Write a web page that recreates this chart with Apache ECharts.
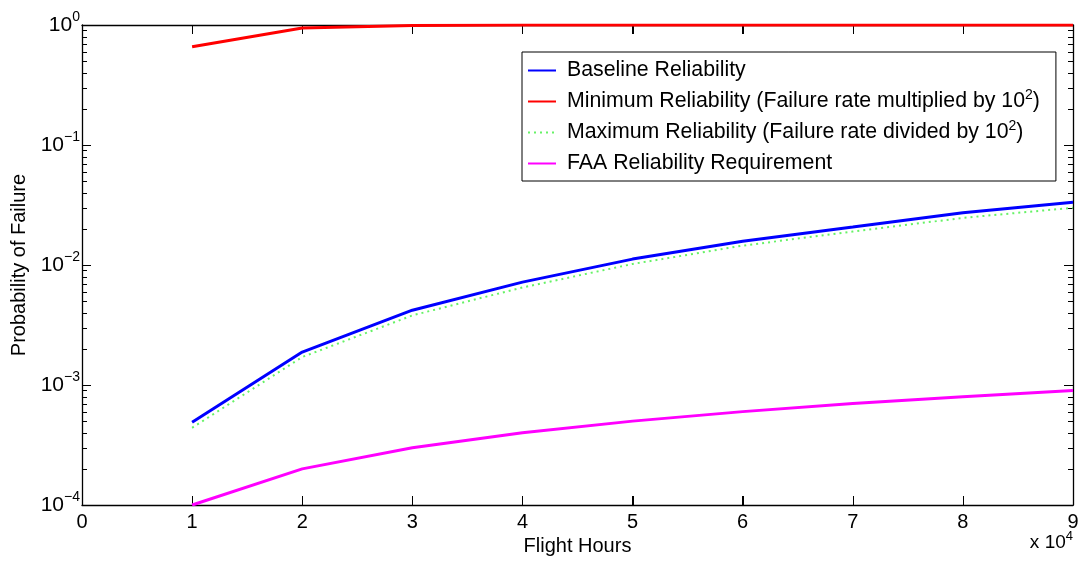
<!DOCTYPE html>
<html>
<head>
<meta charset="utf-8">
<script src="https://cdn.jsdelivr.net/npm/echarts@6/dist/echarts.min.js"></script>
<style>
html,body{margin:0;padding:0;background:#fff;}
#chart{width:1084px;height:562px;}
</style>
</head>
<body>
<div id="chart"></div>
<script>
// x values in units of 10^4 flight hours
var flightHours = [1, 2, 3, 4, 5, 6, 7, 8, 9];
var baseline = [4.9e-4, 1.88e-3, 4.2e-3, 7.2e-3, 1.12e-2, 1.58e-2, 2.07e-2, 2.72e-2, 3.33e-2];
var minimum = [0.66, 0.944, 0.99, 0.999, 1, 1, 1, 1, 1];
var maximum = [4.4e-4, 1.71e-3, 3.8e-3, 6.5e-3, 1.02e-2, 1.45e-2, 1.9e-2, 2.47e-2, 3.0e-2];
var faa = [1e-4, 2e-4, 3e-4, 4e-4, 5e-4, 6e-4, 7e-4, 8e-4, 9e-4];
var seriesNames = [
  'Baseline Reliability',
  'Minimum Reliability (Failure rate multiplied by 10^2)',
  'Maximum Reliability (Failure rate divided by 10^2)',
  'FAA Reliability Requirement'
];
var xRange = [0, 9];
var yRange = [1e-4, 1];
var xTickValues = [1, 2, 3, 4, 5, 6, 7, 8];
var minorMultipliers = [2, 3, 4, 5, 6, 7, 8, 9];

// minor log ticks (2..9 x 10^d) as raw values
var minorTicks = [];
for (var d = -4; d < 0; d++) {
  for (var k = 0; k < minorMultipliers.length; k++) {
    minorTicks.push(minorMultipliers[k] * Math.pow(10, d));
  }
}
function pairs(ys) { return flightHours.map(function (x, i) { return [x, ys[i]]; }); }

var FONT = '"Liberation Sans", Arial, Helvetica, sans-serif';
var chart = echarts.init(document.getElementById('chart'));

function yLabel(v) {
  var e = Math.round(Math.log10(v));
  var es = e < 0 ? '\u2212' + (-e) : String(e);
  return '{b|10}{s|' + es + '}';
}
function legendLabel(name) {
  var m = name.match(/^(.*10)\^(\d)(.*)$/);
  if (m) return '{f|' + m[1] + '}{s|' + m[2] + '}{a|' + m[3] + '}';
  return '{f|' + name + '}';
}

var axisLineStyle = { color: '#000', width: 1.3 };
var tickStyle = { color: '#000', width: 1 };
var MINOR_LEN = 5;
var MAJOR_LEN = 9;

var option = {
  animation: false,
  backgroundColor: '#fff',
  textStyle: { fontFamily: FONT },
  grid: { left: 82, right: 11, top: 25, bottom: 57 },
  legend: {
    orient: 'vertical',
    left: 522,
    top: 52,
    padding: [5, 16, 4, 5],
    itemGap: 4,
    itemWidth: 28,
    itemHeight: 14,
    borderColor: '#000',
    borderWidth: 1,
    backgroundColor: '#fff',
    itemStyle: { opacity: 0 },
    data: seriesNames,
    formatter: legendLabel,
    textStyle: {
      fontFamily: FONT,
      fontSize: 21.3,
      lineHeight: 27,
      color: '#000',
      rich: {
        f: { fontSize: 21.3, lineHeight: 27, color: '#000', fontFamily: FONT, padding: [0, 0, 0, 6] },
        a: { fontSize: 21.3, lineHeight: 27, color: '#000', fontFamily: FONT },
        s: { fontSize: 14, lineHeight: 14, verticalAlign: 'top', color: '#000', fontFamily: FONT }
      }
    }
  },
  xAxis: [
    {
      type: 'value', min: xRange[0], max: xRange[1], interval: 1, position: 'bottom',
      name: 'Flight Hours', nameLocation: 'middle', nameGap: 22,
      nameTextStyle: { fontSize: 20, color: '#000', fontFamily: FONT },
      axisLine: { show: true, lineStyle: axisLineStyle },
      axisTick: { show: true, inside: true, length: MAJOR_LEN, lineStyle: tickStyle },
      axisLabel: { show: true, margin: 7, fontSize: 20, color: '#000', fontFamily: FONT },
      splitLine: { show: false }
    },
    {
      type: 'value', min: xRange[0], max: xRange[1], interval: 1, position: 'top',
      axisLine: { show: true, lineStyle: axisLineStyle },
      axisTick: { show: true, inside: true, length: MAJOR_LEN, lineStyle: tickStyle },
      axisLabel: { show: false },
      splitLine: { show: false }
    }
  ],
  yAxis: [
    {
      type: 'log', logBase: 10, min: yRange[0], max: yRange[1], interval: 1, position: 'left',
      name: 'Probability of Failure', nameLocation: 'middle', nameGap: 49, nameRotate: 90,
      nameTextStyle: { fontSize: 20, color: '#000', fontFamily: FONT },
      axisLine: { show: true, onZero: false, lineStyle: axisLineStyle },
      axisTick: { show: true, inside: true, length: MAJOR_LEN, lineStyle: tickStyle },
      axisLabel: {
        show: true, margin: 2, formatter: yLabel,
        rich: {
          b: { fontSize: 21, lineHeight: 30, color: '#000', fontFamily: FONT },
          s: { fontSize: 14, lineHeight: 14, verticalAlign: 'top', color: '#000', fontFamily: FONT }
        }
      },
      splitLine: { show: false }
    },
    {
      type: 'log', logBase: 10, min: yRange[0], max: yRange[1], interval: 1, position: 'right',
      axisLine: { show: true, onZero: false, lineStyle: axisLineStyle },
      axisTick: { show: true, inside: true, length: MAJOR_LEN, lineStyle: tickStyle },
      axisLabel: { show: false },
      splitLine: { show: false }
    }
  ],
  graphic: [
    {
      type: 'text', right: 11, top: 530,
      style: {
        text: '{a|x 10}{s|4}',
        fill: '#000',
        font: '19px ' + FONT,
        rich: {
          a: { fontSize: 19, lineHeight: 26, fontFamily: FONT, fill: '#000' },
          s: { fontSize: 13, lineHeight: 13, verticalAlign: 'top', fontFamily: FONT, fill: '#000' }
        }
      }
    }
  ],
  series: [
    {
      // minor log ticks on the left and right frame edges, placed through the y scale
      type: 'custom', silent: true, clip: false, z: 1,
      xAxisIndex: 0, yAxisIndex: 0,
      data: minorTicks.map(function (v) { return [xRange[0], v]; }),
      encode: { x: 0, y: 1 },
      renderItem: function (params, api) {
        var v = api.value(1);
        var pL = api.coord([xRange[0], v]);
        var pR = api.coord([xRange[1], v]);
        var st = { stroke: '#000', lineWidth: 1 };
        var yL = Math.round(pL[1]) + 0.5;
        return {
          type: 'group',
          children: [
            { type: 'line', shape: { x1: pL[0], y1: yL, x2: pL[0] + MINOR_LEN, y2: yL }, style: st },
            { type: 'line', shape: { x1: pR[0], y1: yL, x2: pR[0] - MINOR_LEN, y2: yL }, style: st }
          ]
        };
      }
    },
    {
      // major x ticks on the bottom and top frame edges, placed through the x scale
      type: 'custom', silent: true, clip: false, z: 1,
      xAxisIndex: 0, yAxisIndex: 0,
      data: xTickValues.map(function (x) { return [x, yRange[0]]; }),
      encode: { x: 0, y: 1 },
      renderItem: function (params, api) {
        var x = api.value(0);
        var pB = api.coord([x, yRange[0]]);
        var pT = api.coord([x, yRange[1]]);
        var st = { stroke: '#000', lineWidth: 1 };
        var xx = Math.round(pB[0]) + 0.5;
        return {
          type: 'group',
          children: [
            { type: 'line', shape: { x1: xx, y1: pB[1], x2: xx, y2: pB[1] - MAJOR_LEN }, style: st },
            { type: 'line', shape: { x1: xx, y1: pT[1], x2: xx, y2: pT[1] + MAJOR_LEN }, style: st }
          ]
        };
      }
    },
    {
      name: seriesNames[2], type: 'line', symbol: 'none', data: pairs(maximum),
      lineStyle: { color: '#66f266', width: 2, type: [2, 4] }, itemStyle: { color: '#66f266' }, z: 2
    },
    {
      name: seriesNames[0], type: 'line', symbol: 'none', data: pairs(baseline),
      lineStyle: { color: '#0000ff', width: 3 }, itemStyle: { color: '#0000ff' }, z: 3
    },
    {
      name: seriesNames[1], type: 'line', symbol: 'none', data: pairs(minimum),
      lineStyle: { color: '#ff0000', width: 3 }, itemStyle: { color: '#ff0000' }, z: 3
    },
    {
      name: seriesNames[3], type: 'line', symbol: 'none', data: pairs(faa),
      lineStyle: { color: '#ff00ff', width: 3 }, itemStyle: { color: '#ff00ff' }, z: 3
    }
  ]
};
chart.setOption(option);
</script>
</body>
</html>
